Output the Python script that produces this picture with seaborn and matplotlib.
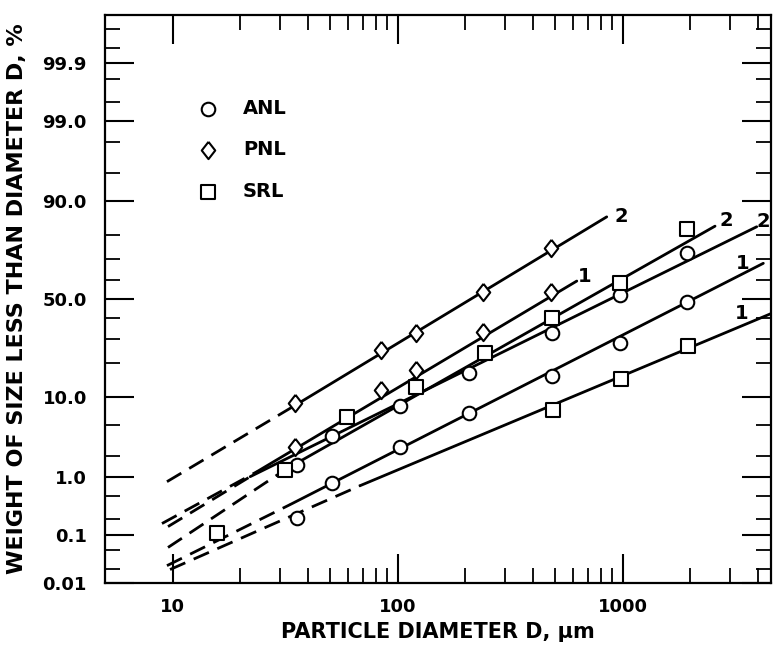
import math

import numpy as np
import matplotlib
matplotlib.use("Agg")
import matplotlib.pyplot as plt
from matplotlib.ticker import NullFormatter
import seaborn as sns

# ---- values -------------------------------------------------------------------
# diameter in um, weight of size less than D in %

# PNL (diamonds), samples 2 and 1
pnl_d = [35, 84, 121, 240, 480]
pnl2_pct = [8.7, 25.2, 32.8, 53.6, 74.8]
pnl1_pct = [2.65, 11.7, 17.7, 33.3, 53.6]

# ANL (circles), samples 2 and 1
anl_d = [35.6, 51, 102, 207, 487, 977, 1936]
anl2_pct = [1.50, 3.59, 8.09, 16.6, 32.7, 52.1, 72.5]
anl1_pct = [0.207, 0.80, 2.67, 6.76, 15.7, 28.1, 48.6]

# SRL (squares), samples 2 and 1
srl2_d = [31.5, 59.3, 121, 244, 483, 973, 1923]
srl2_pct = [1.27, 6.19, 12.4, 23.9, 40.2, 58.3, 81.9]
srl1_d = [15.7, 490, 980, 1950]
srl1_pct = [0.11, 7.34, 14.8, 26.9]

# fitted lines: dashed from 1st to 2nd knot, solid from 2nd to 3rd
fit_names = ["PNL 2", "PNL 1", "ANL 2", "ANL 1", "SRL 2", "SRL 1"]
fit_d = [
    [9.43, 35.3, 849],
    [8.96, 23.7, 625],
    [9.53, 22.1, 3940],
    [9.43, 33.2, 4216],
    [9.53, 31.6, 2572],
    [9.73, 68.0, 4600],
]
fit_pct = [
    [0.838, 8.29, 85.9],
    [0.164, 1.19, 59.3],
    [0.144, 1.00, 82.8],
    [0.024, 0.354, 68.0],
    [0.057, 1.27, 83.0],
    [0.0198, 0.725, 42.6],
]
# sample number written at the end of each line
end_text = ["2", "1", "2", "1", "2", "1"]
end_d = [990, 680, 4203, 3425, 2899, 3380]
end_pct = [85.9, 61.5, 84.4, 68.1, 84.9, 42.6]

y_major = [0.01, 0.1, 1.0, 10.0, 50.0, 90.0, 99.0, 99.9]
y_labels = ["0.01", "0.1", "1.0", "10.0", "50.0", "90.0", "99.0", "99.9"]
y_minor = [0.02, 0.05, 0.2, 0.5, 2, 5, 20, 30, 40, 60, 70, 80, 95, 98,
           99.5, 99.8, 99.95, 99.98]
x_major = [10, 100, 1000]
x_labels = ["10", "100", "1000"]
x_minor = [20, 30, 40, 50, 60, 70, 80, 90,
           200, 300, 400, 500, 600, 700, 800, 900,
           2000, 3000, 4000]


## probability scale for the y axis (percent <-> normal quantile)
_A = [-3.969683028665376e+01, 2.209460984245205e+02, -2.759285104469687e+02,
      1.383577518672690e+02, -3.066479806614716e+01, 2.506628277459239e+00]
_B = [-5.447609879822406e+01, 1.615858368580409e+02, -1.556989798598866e+02,
      6.680131188771972e+01, -1.328068155288572e+01]
_C = [-7.784894002430293e-03, -3.223964580411365e-01, -2.400758277161838e+00,
      -2.549732539343734e+00, 4.374664141464968e+00, 2.938163982698783e+00]
_D = [7.784695709041462e-03, 3.224671290700398e-01, 2.445134137142996e+00,
      3.754408661907416e+00]
_erf = np.frompyfunc(math.erf, 1, 1)


def pct_to_z(p):
    q = np.clip(np.asarray(p, dtype=float) / 100.0, 1e-12, 1 - 1e-12)
    # central part
    u = q - 0.5
    r = u * u
    num = (((((_A[0] * r + _A[1]) * r + _A[2]) * r + _A[3]) * r + _A[4]) * r + _A[5]) * u
    den = ((((_B[0] * r + _B[1]) * r + _B[2]) * r + _B[3]) * r + _B[4]) * r + 1
    z_mid = num / den
    # tails
    t = np.sqrt(-2 * np.log(np.minimum(q, 1 - q)))
    tail = ((((( _C[0] * t + _C[1]) * t + _C[2]) * t + _C[3]) * t + _C[4]) * t + _C[5]) / \
           ((((_D[0] * t + _D[1]) * t + _D[2]) * t + _D[3]) * t + 1)
    z_tail = np.where(q < 0.5, tail, -tail)
    return np.where((q < 0.02425) | (q > 1 - 0.02425), z_tail, z_mid)


def z_to_pct(z):
    z = np.asarray(z, dtype=float)
    return 50.0 * (1.0 + _erf(z / math.sqrt(2.0)).astype(float))


#---FIGURA-----------------------------------------------------------------------
sns.set_style("ticks")
plt.rcParams["font.family"] = ["DejaVu Sans"]
plt.rcParams["font.weight"] = "bold"
plt.rcParams["text.color"] = "black"
plt.rcParams["axes.labelcolor"] = "black"

fig = plt.figure(figsize=(7.73, 6.47), dpi=100)
ax = fig.add_axes([0.1358, 0.0989, 0.8616, 0.8779])
ax.set_xscale("log")
ax.set_yscale("function", functions=(pct_to_z, z_to_pct))
ax.set_xlim(5, 4560)
ax.set_ylim(0.01, 99.99)

# fitted lines
for d, p in zip(fit_d, fit_pct):
    sns.lineplot(x=d[:2], y=p[:2], color="black", linewidth=2.0,
                 linestyle=(0, (6, 3.3)), sort=False, estimator=None,
                 ax=ax, zorder=2)
    sns.lineplot(x=d[1:], y=p[1:], color="black", linewidth=2.0,
                 sort=False, estimator=None, ax=ax, zorder=2)

# data points
diamond = [(0, 1), (0.78, 0), (0, -1), (-0.78, 0), (0, 1)]
estilo = dict(color="white", edgecolor="black", linewidth=1.5, zorder=3, ax=ax)
sns.scatterplot(x=anl_d + anl_d, y=anl2_pct + anl1_pct, marker="o", s=95,
                label="ANL", **estilo)
sns.scatterplot(x=pnl_d + pnl_d, y=pnl2_pct + pnl1_pct, marker=diamond, s=155,
                label="PNL", **estilo)
sns.scatterplot(x=srl2_d + srl1_d, y=srl2_pct + srl1_pct, marker="s", s=95,
                label="SRL", **estilo)

for t, d, p in zip(end_text, end_d, end_pct):
    ax.text(d, p, t, fontsize=14, fontweight="bold", ha="center", va="center")

# ticks
ax.set_xticks(x_major, x_labels)
ax.set_xticks(x_minor, minor=True)
ax.xaxis.set_minor_formatter(NullFormatter())
ax.set_yticks(y_major, y_labels)
ax.set_yticks(y_minor, minor=True)
ax.yaxis.set_minor_formatter(NullFormatter())
ax.tick_params(which="both", direction="in", top=True, right=True,
               color="black", labelcolor="black", labelsize=13)
ax.tick_params(which="major", length=21, width=1.5)
ax.tick_params(which="minor", length=10.5, width=1.3)
ax.tick_params(axis="y", pad=13)
ax.tick_params(axis="x", pad=11)
for s in ax.spines.values():
    s.set_color("black")
    s.set_linewidth(1.6)

ax.legend(loc="upper left", bbox_to_anchor=(0.14, 0.852), frameon=False,
          fontsize=14, handlelength=1.0, handletextpad=1.3, labelspacing=1.15,
          borderaxespad=0, borderpad=0, scatterpoints=1)

ax.set_xlabel("PARTICLE DIAMETER D, μm", fontsize=15, fontweight="bold", labelpad=4)
ax.set_ylabel("WEIGHT OF SIZE LESS THAN DIAMETER D, %", fontsize=16, fontweight="bold")
ax.yaxis.set_label_coords(-0.117, 0.5)

fig.savefig("out.png", dpi=100)
